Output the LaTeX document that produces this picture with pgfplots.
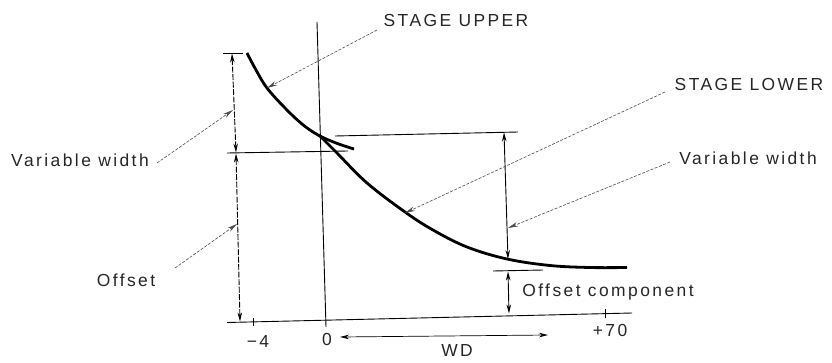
\documentclass[border=0pt]{standalone}
\usepackage{pgfplots}
\pgfplotsset{compat=1.18}
\usepackage{fontspec}
\setmainfont{Liberation Sans}[LetterSpace=14]
\usetikzlibrary{arrows.meta}
\begin{document}
\begin{tikzpicture}[
  lbl/.style={font=\fontsize{17.5}{20}\selectfont, inner sep=0pt, text=black!85},
  curve/.style={black, line width=2.8bp, smooth, tension=0.6},
  dim/.style={black, line width=0.9bp},
  dimarr/.style={black, line width=0.9bp, {Stealth[length=9bp,width=4.5bp]}-{Stealth[length=9bp,width=4.5bp]}},
  leader/.style={black!70, line width=0.6bp, dash pattern=on 3bp off 1.5bp, -{Stealth[length=10bp,width=4.5bp]}}
]
\begin{axis}[scale only axis, width=832bp, height=363bp,
  xmin=0, xmax=832, ymin=0, ymax=363, y dir=reverse,
  axis lines=none, clip=false]
\path (axis cs:0,0) rectangle (axis cs:832,363);
% curves
\addplot[curve] coordinates {(247,53) (256,70) (267,88) (285,108) (302,124) (318,135) (336,143) (354,149)};
\addplot[curve] coordinates {(320,136) (337,153) (367,183) (405,212) (433,230) (467,247) (507,259) (550,265.5) (590,267.5) (627,267.5)};
% axes
\addplot[dim] coordinates {(317,22) (326,327)};
\addplot[dim] coordinates {(227,322.5) (632,313)};
\addplot[dim] coordinates {(253,318) (253,326)};
\addplot[dim] coordinates {(605,309) (605,318)};
% left dimension
\addplot[dim] coordinates {(223,53) (243,53)};
\addplot[dim] coordinates {(227,153) (348,151)};
\addplot[dimarr, dash pattern=on 6bp off 1.5bp] coordinates {(232,53.5) (236,152.5)};
\addplot[dimarr, dash pattern=on 6bp off 1.5bp] coordinates {(236,153.5) (240,321.5)};
% right dimension
\addplot[dim] coordinates {(335,136) (518,132)};
\addplot[dimarr] coordinates {(504,132.5) (508,259)};
\addplot[dim] coordinates {(493,271) (543,270)};
\addplot[dimarr] coordinates {(508,271.5) (509,313.5)};
% WD arrow
\addplot[dimarr, line width=0.7bp] coordinates {(340,337) (548,335)};
% leaders
\addplot[leader] coordinates {(377,30) (267,88)};
\addplot[leader] coordinates {(665,92) (405,213)};
\addplot[leader] coordinates {(670,162) (508,228)};
\addplot[leader] coordinates {(157,163) (233,110)};
\addplot[leader] coordinates {(175,268) (237,224)};
% labels
\node[lbl] at (axis cs:456,20) {STAGE UPPER};
\node[lbl] at (axis cs:749,84) {STAGE LOWER};
\node[lbl] at (axis cs:748,158) {Variable width};
\node[lbl] at (axis cs:80,160) {Variable width};
\node[lbl] at (axis cs:126,280) {Offset};
\node[lbl] at (axis cs:608,292) {Offset component};
\node[lbl] at (axis cs:258,341) {−4};
\node[lbl] at (axis cs:327,339) {0};
\node[lbl] at (axis cs:610,330) {+70};
\node[lbl] at (axis cs:457,350) {WD};
\end{axis}
\end{tikzpicture}
\end{document}
